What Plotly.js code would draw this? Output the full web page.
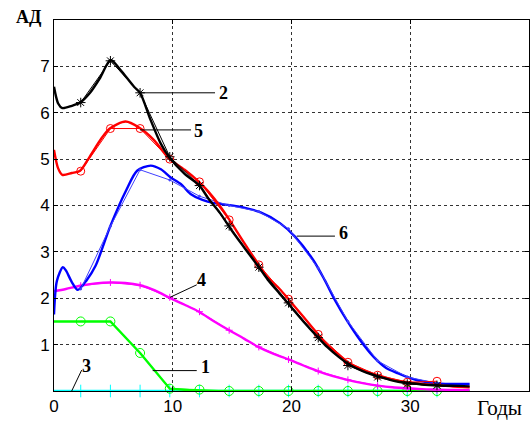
<!DOCTYPE html>
<html>
<head>
<meta charset="utf-8">
<script src="https://cdn.plot.ly/plotly-3.0.1.min.js"></script>
<style>html,body{margin:0;padding:0;background:#fff;}#chart{width:531px;height:421px;}</style>
</head>
<body>
<div id="chart"></div>
<script>
// Smooth model curves
const c2x = [0,0.35,0.7,1.5,2.2,3,3.9,4.77,5.6,6.74,7.25,8.14,8.98,9.68,11,12.25,13,14,15,16,17.25,18,19,20,21,22.25,23,24,25,26,27.5,29,30,31,32.5,34,35];
const c2y = [6.56,6.2,6.1,6.15,6.22,6.42,6.76,7.14,6.92,6.56,6.43,5.84,5.34,5.05,4.68,4.43,4.15,3.83,3.45,3.1,2.67,2.4,2.1,1.8,1.5,1.15,0.95,0.73,0.55,0.43,0.3,0.2,0.17,0.14,0.12,0.11,0.1];
const c5x = [0,0.35,0.7,1.5,2.2,3,4,4.7,6.03,7.16,8.42,9.54,10,11,12.25,13,14,14.75,16,17.25,18,19,19.75,21,22.25,23,24,24.75,26,27.25,28.5,29.75,31,32.5,34,35];
const c5y = [5.2,4.8,4.66,4.7,4.75,5.05,5.45,5.66,5.81,5.68,5.41,5.05,4.95,4.77,4.5,4.3,3.98,3.7,3.2,2.72,2.45,2.2,1.98,1.6,1.22,1.0,0.78,0.62,0.45,0.34,0.25,0.19,0.15,0.12,0.09,0.08];
const c6x = [0,0.25,0.75,1.0,1.5,2.0,2.75,3.5,4.75,6.1,7,8.14,9,9.8,10.7,11.5,12.5,13.5,15.5,17.4,19.03,20.29,21.84,22.8,23.66,24.65,25.77,26.9,28.0,29.0,30,31,32.3,34,35];
const c6y = [1.65,2.38,2.67,2.6,2.35,2.18,2.39,2.7,3.56,4.34,4.75,4.86,4.78,4.61,4.46,4.25,4.12,4.05,3.98,3.85,3.62,3.33,2.82,2.39,1.96,1.53,1.10,0.74,0.49,0.38,0.28,0.21,0.165,0.15,0.15];
const c4x = [0,1,2.2,3.5,4.75,6,7.25,8.5,9.8,11,12.2,13.5,14.75,16,17.2,18.5,19.75,21,22.2,23.5,24.7,26,27.3,28.5,29.75,31,32.3,34,35];
const c4y = [2.15,2.2,2.27,2.32,2.34,2.33,2.28,2.17,2.0,1.86,1.71,1.5,1.31,1.13,0.95,0.8,0.68,0.55,0.43,0.32,0.24,0.17,0.115,0.08,0.06,0.04,0.03,0.02,0.02];
const c1x = [0,2.25,4.75,7.25,9.75,12.25,35];
const c1y = [1.5,1.5,1.5,0.82,0.05,0,0];
const c3x = [0,35];
const c3y = [0,0];

// Measured points (thin lines with markers)
const xm = [2.25,4.75,7.25,9.75,12.25,14.75,17.25,19.75,22.25,24.75,27.25,29.75,32.25];
const m2 = [6.22,7.12,6.43,5.05,4.43,3.56,2.67,1.90,1.15,0.55,0.30,0.15,0.12];
const m5 = [4.74,5.66,5.66,5.0,4.51,3.69,2.72,1.98,1.22,0.62,0.34,0.19,0.21];
const m6 = [2.2,3.55,4.77,4.55,4.2,4.0,3.87,3.5,2.65,1.5,0.65,0.3,0.17];
const m4 = [2.27,2.34,2.28,2.02,1.71,1.31,0.95,0.68,0.43,0.24,0.115,0.05,0.02];
const m1 = [1.5,1.5,0.82,0.05,0.03,0,0,0,0,0,0,0,0];
const m3 = [0,0,0,0,0,0,0,0,0,0,0,0,0];

const xTicks = [0,10,20,30];
const yTicks = [1,2,3,4,5,6,7];
const curveLabels = ['2','5','6','4','1','3'];
const xAxisLabel = 'Годы';
const yAxisLabel = 'АД';

function smooth(x, y, color, shape) {
  return {x:x, y:y, type:'scatter', mode:'lines', hoverinfo:'skip',
    line:{color:color, width:2.4, shape:shape||'spline', smoothing:0.8}};
}
function meas(y, color, symbol, size) {
  return {x:xm, y:y, type:'scatter', mode:'lines+markers', cliponaxis:false, hoverinfo:'skip',
    line:{color:color, width:1}, marker:{symbol:symbol, size:size, color:color, line:{color:color, width:1}}};
}

const traces = [
  smooth(c3x, c3y, '#00ffff', 'linear'),
  meas(m3, '#00ffff', 'line-ns-open', 9),
  smooth(c1x, c1y, '#00ff00', 'linear'),
  meas(m1, '#00ff00', 'circle-open', 9),
  smooth(c4x, c4y, '#ff00ff'),
  meas(m4, '#ff00ff', 'cross-thin-open', 5),
  smooth(c6x, c6y, '#0000ff'),
  meas(m6, '#4040ff', 'circle', 2),
  smooth(c5x, c5y, '#ff0000'),
  meas(m5, '#ff0000', 'circle-open', 8),
  smooth(c2x, c2y, '#000000'),
  meas(m2, '#000000', 'asterisk-open', 8)
];

const serif = 'Liberation Serif, Times New Roman, serif';
const labelPos = [[14.3,6.43],[12.15,5.6],[24.4,3.4],[12.45,2.4],[12.72,0.52],[2.72,0.53]];
const annotations = curveLabels.map((t,i)=>({text:'<b>'+t+'</b>', x:labelPos[i][0], y:labelPos[i][1], xref:'x', yref:'y',
  showarrow:false, font:{family:serif, size:18, color:'#000'}}));
annotations.push({text:'<b>'+yAxisLabel+'</b>', x:-0.0526, y:1.0094, xref:'paper', yref:'paper', xanchor:'center', yanchor:'middle',
  showarrow:false, font:{family:serif, size:18, color:'#000'}});
annotations.push({text:xAxisLabel, x:0.937, y:-0.0458, xref:'paper', yref:'paper', xanchor:'center', yanchor:'middle',
  showarrow:false, font:{family:serif, size:21, color:'#000'}});

const leaders = [[7.1,6.43,13.56,6.43],[7.24,5.63,11.54,5.63],[20.44,3.34,23.66,3.34],[9.77,2.02,12.02,2.29],[8.31,0.44,12.02,0.44],[1.49,0.0,2.33,0.45]];
const shapes = leaders.map(l=>({type:'line', xref:'x', yref:'y', x0:l[0], y0:l[1], x1:l[2], y1:l[3], line:{color:'#000', width:1}}));

const axisCommon = {showgrid:true, gridcolor:'#333', griddash:'3px,3px', gridwidth:1,
  zeroline:false, showline:true, linecolor:'#000', linewidth:1, mirror:'ticks', ticks:'inside', ticklen:4, tickcolor:'#000',
  tickfont:{family:'Liberation Sans, Arial, sans-serif', size:17, color:'#000'}, fixedrange:true};

const layout = {
  width:531, height:421,
  margin:{l:54, r:2, t:20, b:30, pad:0},
  paper_bgcolor:'#fff', plot_bgcolor:'#fff',
  showlegend:false,
  xaxis:Object.assign({range:[0,40], tickvals:xTicks, ticktext:xTicks.map(String)}, axisCommon),
  yaxis:Object.assign({range:[0,8], tickvals:yTicks, ticktext:yTicks.map(String)}, axisCommon),
  annotations:annotations,
  shapes:shapes
};
Plotly.newPlot('chart', traces, layout, {displayModeBar:false, staticPlot:true});
</script>
</body>
</html>
